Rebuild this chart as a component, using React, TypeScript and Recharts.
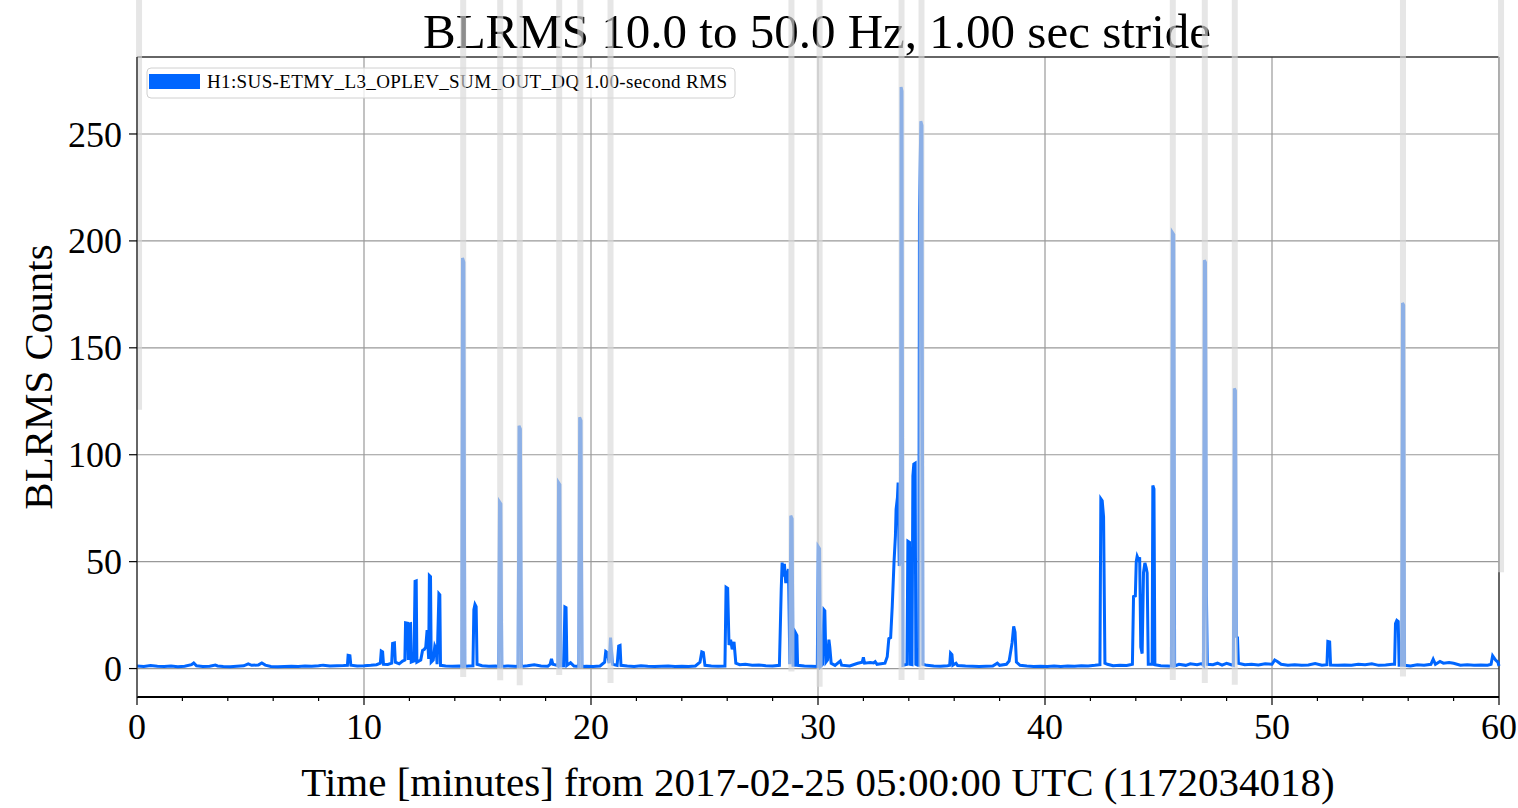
import React from "react";
import {
  ComposedChart,
  Line,
  XAxis,
  YAxis,
  CartesianGrid,
  ReferenceLine,
  Customized,
} from "recharts";

// time in minutes from 05:00:00 UTC, and BLRMS counts
const minutes = [
  0.0, 0.3, 0.6, 0.9, 1.2, 1.5, 1.8, 2.1, 2.4, 2.5, 2.62, 2.9, 3.2, 3.45, 3.55, 3.8, 4.1, 4.4, 4.7,
  4.9, 5.05, 5.35, 5.5, 5.65, 5.9, 6.2, 6.5, 6.8, 7.1, 7.4, 7.7, 8.0, 8.2, 8.5, 8.8, 9.1, 9.27, 9.3,
  9.38, 9.42, 9.7, 10.0, 10.3, 10.55, 10.72, 10.76, 10.82, 10.86, 11.05, 11.22, 11.26, 11.34, 11.38,
  11.55, 11.7, 11.8, 11.83, 11.92, 11.95, 11.97, 12.05, 12.08, 12.2, 12.25, 12.3, 12.33, 12.5, 12.58,
  12.66, 12.72, 12.78, 12.85, 12.88, 12.93, 12.96, 13.05, 13.12, 13.18, 13.22, 13.3, 13.34, 13.37,
  13.6, 13.9, 14.2, 14.31, 14.34, 14.4, 14.44, 14.6, 14.8, 14.84, 14.89, 14.94, 14.98, 15.2, 15.5, 15.8,
  15.93, 15.97, 16.03, 16.07, 16.3, 16.6, 16.79, 16.83, 16.89, 16.93, 17.2, 17.5, 17.8, 18.1, 18.2, 18.26, 18.32,
  18.5, 18.54, 18.57, 18.63, 18.67, 18.8, 18.85, 18.9, 18.94, 19.1, 19.25, 19.46, 19.5, 19.56, 19.6, 19.8, 20.1,
  20.4, 20.6, 20.65, 20.72, 20.8, 20.86, 20.95, 21.15, 21.22, 21.28, 21.32, 21.6, 21.9, 22.2, 22.5,
  22.8, 23.1, 23.4, 23.7, 24.0, 24.3, 24.6, 24.8, 24.88, 24.95, 25.02, 25.3, 25.6, 25.9, 25.95,
  26.02, 26.08, 26.15, 26.22, 26.3, 26.38, 26.55, 26.8, 27.1, 27.4, 27.7, 28.0, 28.3, 28.38, 28.42,
  28.46, 28.52, 28.58, 28.62, 28.7, 28.76, 28.8, 28.86, 28.9, 28.98, 29.02, 29.07, 29.1, 29.4, 29.7,
  29.97, 30.01, 30.07, 30.11, 30.2, 30.26, 30.3, 30.35, 30.42, 30.48, 30.52, 30.58, 30.75, 30.98, 31.04,
  31.4, 31.75, 31.95, 32.0, 32.05, 32.3, 32.45, 32.52, 32.6, 32.95, 33.05, 33.12, 33.2, 33.27,
  33.35, 33.41, 33.44, 33.5, 33.53, 33.58, 33.62, 33.64, 33.66, 33.7, 33.74, 33.92, 33.96, 34.03, 34.06,
  34.14, 34.18, 34.22, 34.28, 34.31, 34.4, 34.44, 34.47, 34.53, 34.58, 34.62, 34.8, 35.1, 35.4, 35.7, 35.8,
  35.84, 35.9, 35.94, 36.08, 36.15, 36.5, 36.8, 37.1, 37.4, 37.7, 37.9, 38.0, 38.3, 38.42, 38.55,
  38.62, 38.68, 38.74, 38.9, 39.2, 39.5, 39.8, 40.1, 40.4, 40.7, 41.0, 41.3, 41.6, 41.9, 42.2,
  42.42, 42.46, 42.52, 42.58, 42.64, 42.75, 43.0, 43.3, 43.6, 43.85, 43.9, 43.98, 44.02, 44.06,
  44.12, 44.17, 44.22, 44.28, 44.34, 44.4, 44.46, 44.5, 44.55, 44.72, 44.75, 44.8, 44.84, 45.1,
  45.4, 45.57, 45.61, 45.67, 45.71, 45.9, 46.2, 46.4, 46.7, 46.9, 46.98, 47.02, 47.07, 47.11, 47.15, 47.4, 47.6,
  47.8, 48.0, 48.2, 48.3, 48.34, 48.39, 48.43, 48.48, 48.52, 48.8, 49.1, 49.4, 49.7, 50.0, 50.12, 50.25,
  50.4, 50.7, 51.0, 51.3, 51.6, 51.9, 52.2, 52.42, 52.46, 52.54, 52.58, 52.9, 53.2, 53.5, 53.8,
  54.1, 54.4, 54.7, 55.0, 55.3, 55.4, 55.44, 55.5, 55.56, 55.6, 55.71, 55.75, 55.8, 55.84, 56.1, 56.4,
  56.7, 57.0, 57.1, 57.2, 57.4, 57.55, 57.8, 58.0, 58.3, 58.6, 58.9, 59.2, 59.5, 59.65, 59.72,
  59.85, 59.95, 60.0,
];

const counts = [
  1.2, 1.0, 1.4, 1.1, 1.0, 1.2, 0.9, 1.1, 1.8, 2.6, 1.3, 1.0, 1.1, 1.6, 1.2, 1.0, 0.9, 1.1, 1.3,
  2.2, 1.5, 1.7, 2.6, 1.6, 1.0, 0.9, 1.0, 1.1, 1.0, 1.2, 1.1, 1.3, 1.6, 1.2, 1.3, 1.4, 1.5, 6.2,
  6.0, 1.6, 1.2, 1.3, 1.5, 1.8, 2.5, 8.2, 7.8, 2.0, 1.9, 2.5, 11.8, 12.0, 3.0,
  2.2, 3.5, 4.0, 21.4, 21.2, 4.0, 20.8, 21.0, 3.0, 3.5, 40.8, 41.0, 3.0, 4.0, 8.5,
  9.0, 10.0, 18.0, 4.5, 43.5, 43.0, 3.0, 4.0, 10.5, 9.0, 2.0, 35.0, 34.5, 1.5,
  1.2, 1.1, 1.2, 1.0, 192.0, 190.0, 1.0, 1.2, 1.3, 27.5, 30.0, 29.0, 2.0, 1.3, 1.1, 1.2,
  1.0, 78.0, 77.0, 1.0, 1.2, 1.1, 1.0, 113.5, 112.0, 1.0, 1.3, 1.8, 1.2, 1.1, 2.0, 4.5, 2.0,
  1.5, 1.2, 87.0, 86.0, 1.2, 1.3, 28.8, 28.5, 1.5, 2.7, 1.2, 1.0, 117.5, 116.0, 1.0, 1.1, 1.0,
  1.2, 3.0, 8.0, 7.5, 2.5, 14.5, 2.0, 1.5, 10.5, 10.8, 1.5, 1.2, 1.0, 1.3, 1.1,
  1.0, 1.1, 1.2, 1.0, 1.1, 1.0, 1.2, 3.0, 7.8, 7.5, 1.5, 1.2, 1.1, 1.2, 38.0,
  37.5, 11.0, 13.5, 9.0, 12.5, 2.5, 1.8, 2.0, 1.5, 1.7, 1.3, 1.2, 1.5, 37.0, 49.6,
  43.0, 49.0, 40.0, 43.0, 46.5, 2.0, 71.5, 70.0, 1.5, 1.5, 16.5, 15.5, 1.5, 1.2, 1.1,
  1.0, 57.0, 56.0, 1.0, 2.0, 27.5, 27.0, 3.0, 4.0, 13.5, 10.0, 2.5, 1.5, 3.5, 1.6,
  1.2, 2.5, 3.0, 5.3, 2.5, 2.8, 2.6, 3.2, 2.0, 2.5, 5.5, 14.0, 14.5, 29.0,
  50.0, 62.0, 74.5, 80.0, 87.0, 48.0, 50.0, 108.0, 272.0, 270.0, 1.5, 2.0, 59.5, 59.0, 2.0,
  1.8, 90.0, 95.6, 96.0, 2.0, 1.5, 1.5, 213.0, 256.0, 254.0, 2.0, 1.5, 1.2, 1.1, 1.3, 1.5,
  7.2, 6.5, 1.6, 2.5, 1.4, 1.2, 1.1, 1.0, 1.1, 1.2, 2.5, 1.5, 2.0, 3.5, 12.0,
  19.7, 17.0, 3.0, 1.5, 1.2, 1.0, 1.1, 1.0, 1.2, 1.0, 1.2, 1.1, 1.3, 1.2, 1.5,
  1.8, 79.4, 78.5, 71.0, 2.5, 2.0, 1.3, 1.5, 1.4, 2.0, 33.7, 34.0, 50.0, 52.5,
  51.0, 52.0, 10.0, 7.0, 45.0, 49.4, 47.0, 44.7, 2.0, 2.0, 85.6, 84.0, 1.8, 1.3,
  1.2, 1.1, 204.0, 203.0, 1.2, 2.0, 1.5, 2.2, 1.8, 2.3, 1.5, 191.0, 190.0, 34.5, 2.0, 1.8, 2.5,
  1.6, 2.4, 1.8, 1.5, 131.0, 130.0, 15.0, 14.5, 2.5, 1.8, 2.0, 1.7, 2.2, 2.0, 4.0, 3.2,
  2.0, 1.6, 1.8, 1.5, 1.7, 2.3, 1.6, 1.8, 12.7, 12.5, 1.6, 1.5, 1.7, 1.6, 2.0,
  1.8, 2.2, 1.5, 1.7, 2.0, 2.0, 21.0, 22.5, 22.0, 1.5, 1.5, 171.0, 170.0, 1.5, 1.2, 1.8,
  1.5, 2.0, 4.4, 2.0, 3.3, 2.5, 2.8, 2.5, 1.6, 1.8, 1.5, 1.7, 1.6, 2.0, 6.0,
  4.0, 3.0, 1.2,
];

// light grey segment markers drawn over the trace
const markerMinutes = [0.09, 14.37, 16.0, 16.86, 18.6, 19.53, 20.86, 28.83, 30.07, 33.68, 34.56, 45.63, 47.04, 48.36, 55.77, 60.09];
const markerBottoms = [121, -4, -5.5, -7.8, -3, 0, -6.7, -1.4, -8.5, -5.3, -5.3, -5.3, -6.8, -7.6, -3.7, 45];

const xTicks = [0, 2, 4, 6, 8, 10, 12, 14, 16, 18, 20, 22, 24, 26, 28, 30, 32, 34, 36, 38, 40, 42, 44, 46, 48, 50, 52, 54, 56, 58, 60];
const yTicks = [0, 50, 100, 150, 200, 250];

const title = "BLRMS 10.0 to 50.0 Hz, 1.00 sec stride";
const seriesName = "H1:SUS-ETMY_L3_OPLEV_SUM_OUT_DQ 1.00-second RMS";

const data = minutes.map((t, i) => ({ t, v: counts[i] }));

const FONT = "'Liberation Serif', 'DejaVu Serif', serif";
const BLUE = "#0066ff";

const XTick = ({ x, y, payload }: any) => {
  const major = payload.value % 10 === 0;
  return (
    <g>
      <line x1={x} x2={x} y1={y} y2={y + (major ? 8 : 4)} stroke="#000" strokeWidth={1.2} />
      {major && (
        <text x={x} y={y + 42} textAnchor="middle" fontSize={36} fontFamily={FONT} fill="#000">
          {payload.value}
        </text>
      )}
    </g>
  );
};

const YTick = ({ x, y, payload }: any) => (
  <g>
    <line x1={x - 8} x2={x} y1={y} y2={y} stroke="#000" strokeWidth={1.2} />
    <text x={x - 15} y={y} dy="0.35em" textAnchor="end" fontSize={36} fontFamily={FONT} fill="#000">
      {payload.value}
    </text>
  </g>
);

const TitleAndLegend = () => (
  <g>
    <text x={817} y={48} textAnchor="middle" fontSize={49} fontFamily={FONT} fill="#000">
      {title}
    </text>
    <rect x={147} y={68} width={588} height={30} rx={4} fill="#fff" fillOpacity={0.8} stroke="#d0d0d0" />
    <rect x={149} y={74} width={51} height={15} fill={BLUE} />
    <text x={207} y={88} fontSize={19} fontFamily={FONT} fill="#000" textLength={520}>
      {seriesName}
    </text>
  </g>
);

export default function App() {
  return (
    <div style={{ position: "absolute", left: 0, top: 0, background: "#fff" }}>
      <ComposedChart
        width={1518}
        height={808}
        data={data}
        margin={{ top: 57, right: 19, bottom: 0, left: 0 }}
      >
        <CartesianGrid
          stroke="#999"
          strokeWidth={1.2}
          verticalValues={[10, 20, 30, 40, 50]}
          horizontalValues={yTicks}
        />
        <XAxis
          dataKey="t"
          type="number"
          domain={[0, 60]}
          ticks={xTicks}
          interval={0}
          height={111}
          tickSize={0}
          tickMargin={0}
          tick={<XTick />}
          axisLine={{ stroke: "#000", strokeWidth: 2 }}
          label={{
            value: "Time [minutes] from 2017-02-25 05:00:00 UTC (1172034018)",
            position: "insideBottom",
            offset: 12,
            fontSize: 41,
            fontFamily: FONT,
            fill: "#000",
          }}
        />
        <YAxis
          type="number"
          domain={[-13.3, 286]}
          allowDataOverflow
          ticks={yTicks}
          width={137}
          tickSize={0}
          tickMargin={0}
          tick={<YTick />}
          axisLine={{ stroke: "#333", strokeWidth: 1.5 }}
          label={{
            value: "BLRMS Counts",
            angle: -90,
            position: "insideLeft",
            offset: 37,
            fontSize: 41,
            fontFamily: FONT,
            fill: "#000",
            style: { textAnchor: "middle" },
          }}
        />
        <ReferenceLine y={286} stroke="#333" strokeWidth={1.5} />
        <ReferenceLine x={60} stroke="#333" strokeWidth={1.5} />
        <Customized component={TitleAndLegend} />
        <Line
          type="linear"
          dataKey="v"
          stroke={BLUE}
          strokeWidth={3}
          dot={false}
          activeDot={false}
          isAnimationActive={false}
        />
        {markerMinutes.map((m, i) => (
          <ReferenceLine
            key={m}
            ifOverflow="visible"
            segment={[
              { x: m, y: 330 },
              { x: m, y: markerBottoms[i] },
            ]}
            stroke="#d9d9d9"
            strokeOpacity={0.65}
            strokeWidth={6}
          />
        ))}
      </ComposedChart>
    </div>
  );
}
